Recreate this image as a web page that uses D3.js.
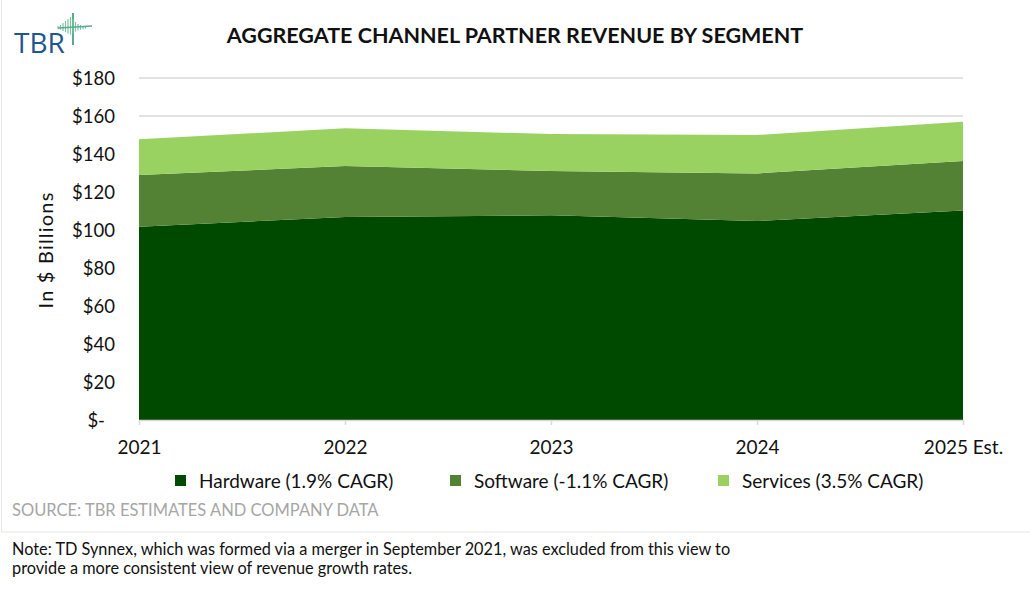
<!DOCTYPE html>
<html>
<head>
<meta charset="utf-8">
<script src="https://cdn.jsdelivr.net/npm/d3@7"></script>
<style>
    body { margin: 0; background: #fff; }
    text { font-family: Lato, "Open Sans", sans-serif; }
</style>
</head>
<body>
<div id="chart"></div>
<script>
    // years and segment values ($B)
    var years = ['2021', '2022', '2023', '2024', '2025 Est.']
    var hardware = [101.7, 106.8, 107.7, 104.7, 110.2]
    var software = [27.2, 26.9, 23.4, 25.1, 26.1]
    var services = [18.8, 19.8, 19.4, 20.2, 20.7]
    var segments = ['Hardware', 'Software', 'Services']
    var legendLabels = ['Hardware (1.9% CAGR)', 'Software (-1.1% CAGR)', 'Services (3.5% CAGR)']
    var yTicks = [0, 20, 40, 60, 80, 100, 120, 140, 160, 180]
    var colors = ['#004a00', '#548235', '#9ad262']

    var width = 1030
    var height = 589
    var margin = { left: 139, right: 67, top: 78, bottom: 169 }

    var svg = d3.select('#chart')
        .append('svg')
        .attr('width', width)
        .attr('height', height)

    // frame round the chart
    svg.append('rect')
        .attr('x', 1.5).attr('y', -2)
        .attr('width', width + 4).attr('height', 534)
        .attr('fill', 'none')
        .attr('stroke', '#e6e6e6')

    // logo
    var logo = svg.append('g').attr('transform', 'translate(14,53)')
    logo.append('text')
        .attr('x', 0).attr('y', 0)
        .style('font-family', '"Open Sans", sans-serif')
        .style('font-size', '28px')
        .attr('fill', '#1f5591')
        .text('TBR')
    logo.append('line')
        .attr('x1', 59).attr('y1', -40).attr('x2', 59).attr('y2', -8)
        .attr('stroke', '#5aaa8c').attr('stroke-width', 2)
    var bars = [2, 3, 5, 7, 9, 11, 9, 6, 4, 3, 2, 1]
    bars.forEach(function (h, i) {
        var bx = 44 + i * 2.5
        logo.append('line')
            .attr('x1', bx).attr('x2', bx)
            .attr('y1', -25 - h).attr('y2', -25 + h * 0.6)
            .attr('stroke', '#7cc2a6').attr('stroke-width', 1.2)
    })
    logo.append('line')
        .attr('x1', 44).attr('y1', -25).attr('x2', 78).attr('y2', -27)
        .attr('stroke', '#5aaa8c').attr('stroke-width', 1.5)

    // title
    svg.append('text')
        .attr('x', 515).attr('y', 43)
        .attr('text-anchor', 'middle')
        .style('font-size', '21.5px')
        .style('font-weight', 'bold')
        .attr('fill', '#111')
        .text('AGGREGATE CHANNEL PARTNER REVENUE BY SEGMENT')

    var x = d3.scalePoint()
        .domain(years)
        .range([margin.left, width - margin.right])

    var y = d3.scaleLinear()
        .domain([0, 180])
        .range([height - margin.bottom, margin.top])

    // gridlines
    svg.append('g')
        .selectAll('line')
        .data(yTicks.slice(1))
        .enter()
        .append('line')
        .attr('x1', margin.left).attr('x2', width - margin.right)
        .attr('y1', function (d) { return y(d) })
        .attr('y2', function (d) { return y(d) })
        .attr('stroke', '#d9d9d9')
        .attr('stroke-width', 1.5)

    // stacked areas
    var table = years.map(function (yr, i) {
        return { year: yr, Hardware: hardware[i], Software: software[i], Services: services[i] }
    })
    var stack = d3.stack().keys(segments)
    var series = stack(table)

    var area = d3.area()
        .x(function (d) { return x(d.data.year) })
        .y0(function (d) { return y(d[0]) })
        .y1(function (d) { return y(d[1]) })

    svg.append('g')
        .selectAll('path')
        .data(series)
        .enter()
        .append('path')
        .attr('d', area)
        .attr('fill', function (d, i) { return colors[i] })

    // y axis labels
    var yAxis = d3.axisLeft(y)
        .tickValues(yTicks)
        .tickSize(0)
        .tickPadding(24)
        .tickFormat(function (d) { return d === 0 ? '$-' : '$' + d })
    var gy = svg.append('g')
        .attr('transform', 'translate(' + margin.left + ',0)')
        .call(yAxis)
    gy.select('.domain').remove()
    gy.selectAll('text')
        .style('font-family', 'Lato, sans-serif')
        .style('font-size', '18.5px')
        .attr('fill', '#111')
        .attr('dy', '0.35em')
        .attr('dx', function (d) { return d === 0 ? -10 : 0 })

    // x axis
    var xAxis = d3.axisBottom(x)
        .tickSize(5)
        .tickPadding(16)
    var gx = svg.append('g')
        .attr('transform', 'translate(0,' + y(0) + ')')
        .call(xAxis)
    gx.select('.domain')
        .attr('d', 'M' + margin.left + ',0.5H' + (width - margin.right))
        .attr('stroke', '#d9d9d9')
        .attr('stroke-width', 1.5)
    gx.selectAll('.tick line').attr('stroke', '#d9d9d9').attr('stroke-width', 1.5)
    gx.selectAll('text')
        .style('font-family', 'Lato, sans-serif')
        .style('font-size', '19px')
        .attr('fill', '#111')

    // y axis title
    svg.append('text')
        .attr('transform', 'translate(53,250) rotate(-90)')
        .attr('text-anchor', 'middle')
        .style('font-size', '20px')
        .style('letter-spacing', '1.2px')
        .attr('fill', '#111')
        .text('In $ Billions')

    // legend
    var legendX = [175, 450, 718]
    var legend = svg.append('g')
        .selectAll('g')
        .data(legendLabels)
        .enter()
        .append('g')
        .attr('transform', function (d, i) { return 'translate(' + legendX[i] + ',475)' })
    legend.append('rect')
        .attr('width', 11).attr('height', 11)
        .attr('fill', function (d, i) { return colors[i] })
    legend.append('text')
        .attr('x', 24).attr('y', 12.5)
        .style('font-size', '19px')
        .attr('fill', '#111')
        .text(function (d) { return d })

    // source
    svg.append('text')
        .attr('x', 12).attr('y', 516)
        .style('font-size', '16.5px')
        .attr('fill', '#a6a6a6')
        .text('SOURCE: TBR ESTIMATES AND COMPANY DATA')

    // note
    var note = ['Note: TD Synnex, which was formed via a merger in September 2021, was excluded from this view to',
        'provide a more consistent view of revenue growth rates.']
    svg.append('g')
        .selectAll('text')
        .data(note)
        .enter()
        .append('text')
        .attr('x', 12)
        .attr('y', function (d, i) { return 555 + i * 19 })
        .style('font-size', '16.3px')
        .attr('fill', '#111')
        .text(function (d) { return d })
</script>
</body>
</html>
